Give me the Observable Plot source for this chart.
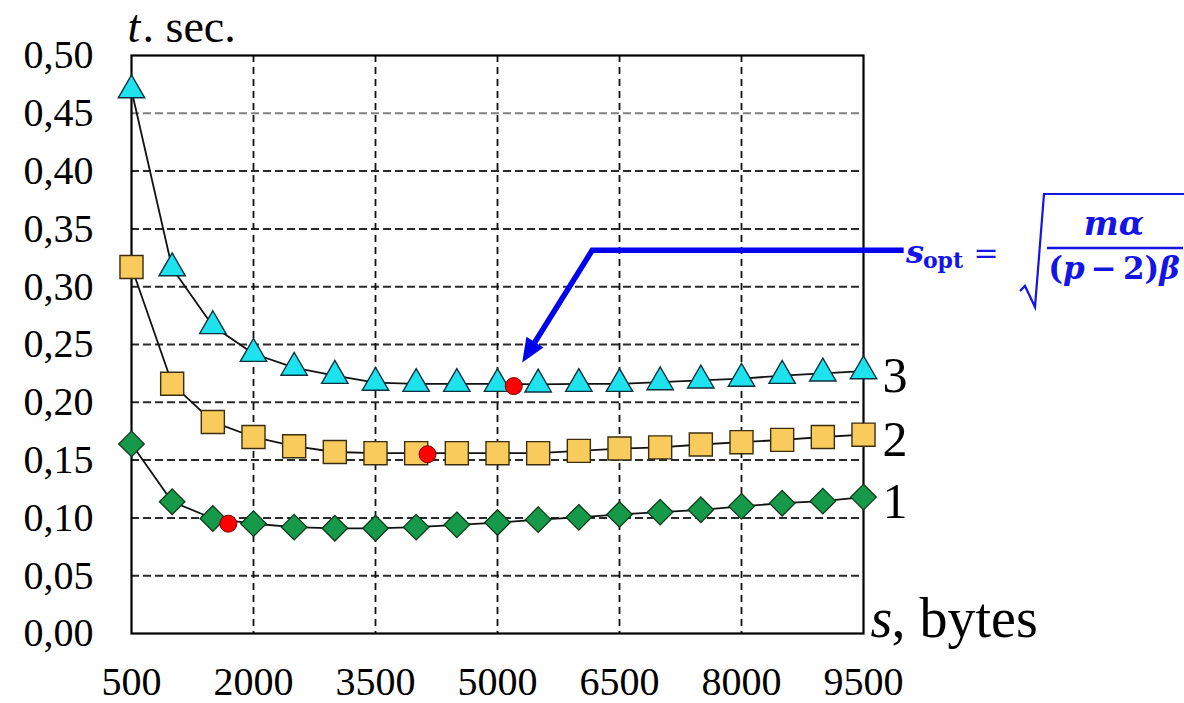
<!DOCTYPE html>
<html>
<head>
<meta charset="utf-8">
<script src="https://cdn.jsdelivr.net/npm/d3@7"></script>
<script src="https://cdn.jsdelivr.net/npm/@observablehq/plot@0.6"></script>
<style>
  html, body { margin: 0; padding: 0; background: #fff; }
  #chart { width: 1184px; height: 703px; }
</style>
</head>
<body>
<div id="chart"></div>
<script>
// ---- data ----
const sizes = [500, 1000, 1500, 2000, 2500, 3000, 3500, 4000, 4500, 5000, 5500, 6000, 6500, 7000, 7500, 8000, 8500, 9000, 9500];
const t1 = [0.164, 0.114, 0.0995, 0.095, 0.092, 0.091, 0.091, 0.092, 0.094, 0.096, 0.0985, 0.1005, 0.103, 0.105, 0.107, 0.110, 0.1127, 0.1145, 0.118];
const t2 = [0.317, 0.216, 0.183, 0.170, 0.162, 0.157, 0.156, 0.156, 0.156, 0.156, 0.156, 0.158, 0.160, 0.161, 0.1635, 0.1655, 0.1675, 0.170, 0.172];
const t3 = [0.470, 0.316, 0.266, 0.242, 0.230, 0.223, 0.217, 0.216, 0.216, 0.216, 0.2155, 0.216, 0.216, 0.2175, 0.219, 0.2205, 0.223, 0.225, 0.227];
const curveNames = ["1", "2", "3"];
const optS = [1690, 4140, 5200];
const optT = [0.095, 0.155, 0.214];
const xTicks = [500, 2000, 3500, 5000, 6500, 8000, 9500];
const yTicks = [0, 0.05, 0.10, 0.15, 0.20, 0.25, 0.30, 0.35, 0.40, 0.45, 0.50];
const arrowS = [10000, 6170, 5310];
const arrowT = [0.331, 0.331, 0.234];
const yLabel = ["t", ". sec."];
const xLabel = ["s", ", bytes"];

// ---- tables ----
const series = [t1, t2, t3];
const rows = series.flatMap((ts, i) => sizes.map((s, j) => ({ s, t: ts[j], curve: curveNames[i] })));
const lastPts = series.map((ts, i) => ({ s: sizes[sizes.length - 1], t: ts[ts.length - 1], curve: curveNames[i] }));
const optPts = optS.map((s, i) => ({ s, t: optT[i] }));
const innerY = yTicks.filter(d => d > 0 && d < 0.5);
const innerX = xTicks.filter(d => d > 500 && d < 9500);

const serif = "'Liberation Serif', 'Times New Roman', serif";
const mathFont = "'DejaVu Serif', serif";

const chart = Plot.plot({
  width: 1184,
  height: 703,
  marginLeft: 131,
  marginRight: 321,
  marginTop: 55,
  marginBottom: 70,
  style: { fontFamily: serif, fontSize: "40px", color: "black", background: "white", overflow: "visible" },
  x: { domain: [500, 9500], ticks: xTicks, tickSize: 0, tickPadding: 33, label: null, tickFormat: d => String(d) },
  y: { domain: [0, 0.5], ticks: yTicks, tickSize: 0, tickPadding: 38, label: null, tickFormat: d => d.toFixed(2).replace(".", ",") },
  marks: [
    Plot.ruleY(innerY.filter(d => d !== 0.45), { stroke: "#2a2a2a", strokeWidth: 2, strokeDasharray: "8,4" }),
    Plot.ruleY(innerY.filter(d => d === 0.45), { stroke: "#808080", strokeWidth: 2, strokeDasharray: "8,4" }),
    Plot.ruleX(innerX, { stroke: "#111", strokeWidth: 1.8, strokeDasharray: "7,5" }),
    Plot.frame({ stroke: "black", strokeWidth: 2.2 }),
    Plot.line(rows, { x: "s", y: "t", z: "curve", stroke: "#111", strokeWidth: 1.8 }),
    Plot.dot(rows.filter(d => d.curve === "1"), { x: "s", y: "t", symbol: "diamond2", r: 11.5, fill: "#17994a", stroke: "#0c3a1c", strokeWidth: 1.3 }),
    Plot.dot(rows.filter(d => d.curve === "2"), { x: "s", y: "t", symbol: "square", r: 13, fill: "#f8cb5c", stroke: "#3a2e10", strokeWidth: 1.4 }),
    Plot.dot(rows.filter(d => d.curve === "3"), { x: "s", y: "t", symbol: "triangle", r: 9.8, fill: "#1ee3ee", stroke: "#0d3340", strokeWidth: 1.4 }),
    Plot.dot(optPts, { x: "s", y: "t", r: 8.5, fill: "#ff0000", stroke: "#700", strokeWidth: 1 }),
    Plot.text(lastPts, { x: "s", y: "t", text: "curve", dx: 19, dy: 5, textAnchor: "start", lineAnchor: "middle", fontSize: 50, fill: "black" }),
    Plot.text([yLabel[0]], { frameAnchor: "top-left", text: d => d, dx: -4, dy: -28, textAnchor: "start", lineAnchor: "middle", fontSize: 46, fontStyle: "italic", fill: "black" }),
    Plot.text([yLabel[1]], { frameAnchor: "top-left", text: d => d, dx: 11, dy: -28, textAnchor: "start", lineAnchor: "middle", fontSize: 46, fill: "black" }),
    Plot.text([xLabel[0]], { frameAnchor: "bottom-right", text: d => d, dx: 7, dy: -14, textAnchor: "start", lineAnchor: "middle", fontSize: 56, fontStyle: "italic", fill: "black" }),
    Plot.text([xLabel[1]], { frameAnchor: "bottom-right", text: d => d, dx: 28, dy: -14, textAnchor: "start", lineAnchor: "middle", fontSize: 56, fill: "black" })
  ]
});

document.getElementById("chart").appendChild(chart);

// ---- annotation: arrow (through the plot's scales) and formula ----
const svg = d3.select(chart);
const xs = chart.scale("x"), ys = chart.scale("y");
const pts = arrowS.map((s, i) => [xs.apply(s), ys.apply(arrowT[i])]);
const tip = pts[pts.length - 1], prev = pts[pts.length - 2];
const ddx = tip[0] - prev[0], ddy = tip[1] - prev[1];
const len = Math.hypot(ddx, ddy);
const ux = ddx / len, uy = ddy / len;
const headLen = 24, headHalf = 10;
const baseX = tip[0] - ux * headLen, baseY = tip[1] - uy * headLen;
const linePts = pts.slice(0, -1).concat([[tip[0] - ux * (headLen - 4), tip[1] - uy * (headLen - 4)]]);
const blue = "#0000f0";
const ann = svg.append("g");
ann.append("path")
  .attr("d", d3.line()(linePts))
  .attr("fill", "none").attr("stroke", blue).attr("stroke-width", 5.5).attr("stroke-linejoin", "miter");
ann.append("path")
  .attr("d", `M${tip[0]},${tip[1]}L${baseX - uy * headHalf},${baseY + ux * headHalf}L${baseX + uy * headHalf},${baseY - ux * headHalf}Z`)
  .attr("fill", blue);

const fcol = "#1414e6";
const f = ann.append("g").attr("fill", fcol).style("font-family", mathFont).attr("font-weight", "bold");
f.append("text").attr("x", 915).attr("y", 263).style("font-size", "32px").attr("font-style", "italic").text("s");
f.append("text").attr("x", 943).attr("y", 268).style("font-size", "22px").text("opt");
f.append("text").attr("x", 986).attr("y", 263).style("font-size", "30px").attr("font-weight", "normal").text("=");
f.append("path").attr("d", "M1020,291L1025,286L1035,307L1044,194L1184,194")
  .attr("fill", "none").attr("stroke", fcol).attr("stroke-width", 2.2);
f.append("text").attr("x", 1114).attr("y", 235).style("font-size", "33px").attr("font-style", "italic").attr("text-anchor", "middle").text("mα");
f.append("line").attr("x1", 1047).attr("x2", 1183).attr("y1", 248).attr("y2", 248).attr("stroke", fcol).attr("stroke-width", 2.5);
const den = f.append("text").attr("x", 1114).attr("y", 279).style("font-size", "31px").attr("text-anchor", "middle");
den.append("tspan").text("(");
den.append("tspan").attr("font-style", "italic").text("p");
den.append("tspan").text("\u2009−\u20092)");
den.append("tspan").attr("font-style", "italic").text("β");
</script>
</body>
</html>
